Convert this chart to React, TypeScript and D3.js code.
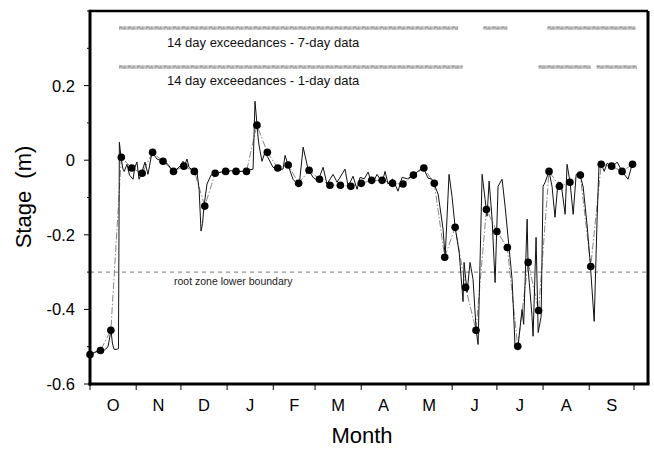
import React from "react";
import * as d3 from "d3";

// ---------- data ----------
const monthLabels = ["O", "N", "D", "J", "F", "M", "A", "M", "J", "J", "A", "S"];
const monthStartDays = [0, 31, 61, 92, 123, 151, 182, 212, 243, 273, 304, 335, 365];
const yTickValues = [-0.6, -0.4, -0.2, 0, 0.2];
const yTickLabels = ["-0.6", "-0.4", "-0.2", "0", "0.2"];
const yMinorTicks = [-0.5, -0.3, -0.1, 0.1, 0.3, 0.4];

// daily stage record: [day of water year, stage (m)]
const dailyStage: [number, number][] = [
  [0, -0.521], [3, -0.515], [6.7, -0.51], [9.4, -0.51], [12.1, -0.5], [14.1, -0.456], [15, -0.49],
  [16.1, -0.507], [18.1, -0.507], [19.1, -0.505], [19.7, 0.048], [20.8, 0.008], [22.1, -0.024],
  [23, -0.03], [24.8, -0.011], [26.5, -0.04], [28.9, -0.051], [30, -0.02], [31.5, -0.005],
  [32.9, -0.051], [35, -0.03], [36.9, -0.005], [38.9, -0.038], [41.6, 0.021], [45, 0.003],
  [49, -0.003], [52.3, -0.011], [55.7, -0.03], [58, -0.025], [60.4, -0.016], [62.4, -0.003],
  [63.8, -0.011], [65.1, 0.003], [66.4, -0.019], [69.8, -0.03], [71.8, -0.032], [73.2, -0.078],
  [74.5, -0.19], [75.5, -0.17], [76.5, -0.123], [78.5, -0.064], [81.2, -0.04], [83.9, -0.035],
  [88, -0.032], [91.3, -0.03], [95, -0.028], [98, -0.03], [102, -0.03], [105.4, -0.027],
  [109.4, -0.024], [110.7, 0.158], [112.1, 0.094], [112.8, 0.06], [113.5, 0.038], [115.4, -0.003],
  [117.4, 0.021], [119, 0.01], [122.8, -0.019], [126.2, -0.024], [129.5, -0.024], [130.9, 0.013],
  [132.9, -0.013], [136.2, -0.051], [140.3, -0.07], [143, 0.035], [146.3, -0.024], [149.7, -0.046],
  [153, -0.056], [156.4, -0.019], [159, -0.064], [163.1, -0.038], [165.8, -0.059], [171.1, -0.024],
  [173.2, -0.07], [176.5, -0.043], [179.2, -0.078], [181.2, -0.046], [184, -0.05], [186.6, -0.032],
  [189.3, -0.064], [192.6, -0.038], [196, -0.059], [198, -0.03], [200, -0.064], [203, -0.05],
  [206.7, -0.083], [209.4, -0.046], [213, -0.05], [216.8, -0.04], [220.1, -0.03], [223.5, -0.019],
  [226.8, -0.048], [229.5, -0.051], [231.5, -0.07], [233.6, -0.091], [236.9, -0.185], [238.3, -0.26],
  [240.9, -0.038], [242.9, -0.097], [245, -0.18], [247.7, -0.247], [250.3, -0.379], [251, -0.274],
  [253, -0.354], [255, -0.274], [257, -0.319], [259.1, -0.456], [260.4, -0.494], [263.1, -0.038],
  [265.1, -0.105], [266.4, -0.15], [267.8, -0.056], [269.8, -0.158], [271.8, -0.328], [273.8, -0.07],
  [276.5, -0.051], [278.5, -0.123], [283.2, -0.319], [285.2, -0.499], [287.2, -0.499], [289.9, -0.4],
  [291, -0.44], [293.3, -0.158], [294, -0.293], [296.6, -0.419], [297.3, -0.472], [299.3, -0.207],
  [300.7, -0.462], [302.7, -0.419], [304, -0.07], [305.4, -0.059], [308, -0.03], [310, -0.07],
  [312, -0.153], [314, -0.059], [316, -0.06], [318.8, -0.145], [320.1, -0.011], [322.1, -0.059],
  [324.2, -0.145], [326.2, -0.038], [328.9, -0.04], [330.9, -0.072], [333.6, -0.177], [335.6, -0.274],
  [338.3, -0.432], [340.3, -0.15], [341.6, -0.005], [343.6, -0.016], [345, -0.03], [347, -0.008],
  [350.3, -0.019], [353.7, -0.005], [357, -0.03], [361, -0.051], [363.8, -0.011],
];

// weekly observations (every 7 days from day 0)
const weeklyStage = [
  -0.521, -0.51, -0.456, 0.008, -0.021, -0.035, 0.021, -0.003, -0.03, -0.016, -0.03, -0.123,
  -0.035, -0.03, -0.03, -0.03, 0.094, 0.021, -0.021, -0.013, -0.062, -0.027, -0.051, -0.067,
  -0.067, -0.07, -0.062, -0.054, -0.054, -0.062, -0.064, -0.04, -0.021, -0.062, -0.26, -0.18,
  -0.341, -0.456, -0.132, -0.191, -0.234, -0.499, -0.274, -0.403, -0.03, -0.07, -0.059, -0.04,
  -0.285, -0.011, -0.016, -0.03, -0.011,
];
const weekStep = 7;

// exceedance periods [start day, end day]
const exceed7Day: [number, number][] = [[19.5, 247], [264, 280], [307, 366]];
const exceed1Day: [number, number][] = [[19.5, 250], [301, 336], [340, 367]];

const rootZoneLevel = -0.3;

// ---------- layout ----------
const W = 654;
const H = 450;
const left = 90;
const right = 648;
const top = 11;
const bottom = 384;

export default function App() {
  const x = d3.scaleLinear().domain([0, 374.4]).range([left, right]);
  const y = d3.scaleLinear().domain([-0.6, 0.4]).range([bottom, top]);

  const line = d3
    .line<[number, number]>()
    .x((d) => x(d[0]))
    .y((d) => y(d[1]));

  const weekly: [number, number][] = weeklyStage.map((v, i) => [i * weekStep, v]);

  const font = "'Liberation Sans', Arial, sans-serif";

  const bar = (s: [number, number], yy: number, key: string) => (
    <g key={key}>
      <line x1={x(s[0])} x2={x(s[1])} y1={yy} y2={yy} stroke="#c4c4c4" strokeWidth={3.4} />
      <line x1={x(s[0])} x2={x(s[1])} y1={yy - 0.8} y2={yy - 0.8} stroke="#888" strokeWidth={1} strokeDasharray="3,2,1,3" />
      <line x1={x(s[0])} x2={x(s[1])} y1={yy + 0.9} y2={yy + 0.9} stroke="#999" strokeWidth={1} strokeDasharray="1,2,4,2" />
    </g>
  );

  return (
    <svg
      width={W}
      height={H}
      style={{ position: "absolute", left: 0, top: 0, background: "#fff" }}
      fontFamily={font}
    >
      <rect x={0} y={0} width={W} height={H} fill="#fff" />

      {/* exceedance bars */}
      {exceed7Day.map((s, i) => bar(s, 28, "e7" + i))}
      {exceed1Day.map((s, i) => bar(s, 67, "e1" + i))}
      <text x={167} y={47} fontSize={13} fill="#111">14 day exceedances - 7-day data</text>
      <text x={167} y={85} fontSize={13} fill="#111">14 day exceedances - 1-day data</text>

      {/* root zone boundary */}
      <line
        x1={left}
        x2={right}
        y1={y(rootZoneLevel)}
        y2={y(rootZoneLevel)}
        stroke="#777"
        strokeWidth={1}
        strokeDasharray="4,4"
      />
      <text x={174} y={y(rootZoneLevel) + 13} fontSize={10.5} fill="#222">
        root zone lower boundary
      </text>

      {/* weekly connecting dash-dot line */}
      <path
        d={line(weekly) || ""}
        fill="none"
        stroke="#888"
        strokeWidth={1}
        strokeDasharray="7,2,1.5,2"
      />
      {/* daily line */}
      <path d={line(dailyStage) || ""} fill="none" stroke="#111" strokeWidth={1} strokeLinejoin="round" />
      {/* weekly dots */}
      {weekly.map((d, i) => (
        <circle key={i} cx={x(d[0])} cy={y(d[1])} r={3.8} fill="#000" />
      ))}

      {/* frame */}
      <line x1={left} x2={right} y1={top} y2={top} stroke="#000" strokeWidth={2.5} />
      <line x1={right} x2={right} y1={top} y2={bottom} stroke="#000" strokeWidth={3} />
      <line x1={left} x2={left} y1={top - 1.2} y2={bottom + 1.5} stroke="#000" strokeWidth={3} />
      <line x1={left - 1.5} x2={right + 1.5} y1={bottom} y2={bottom} stroke="#000" strokeWidth={3} />

      {/* y ticks */}
      {yTickValues.map((v, i) => (
        <g key={"yt" + i}>
          <line x1={left - 6} x2={left} y1={y(v)} y2={y(v)} stroke="#000" strokeWidth={1} />
          <text x={75} y={y(v)} dy="0.36em" fontSize={16.5} textAnchor="end" fill="#000">
            {yTickLabels[i]}
          </text>
        </g>
      ))}
      {yMinorTicks.map((v, i) => (
        <line key={"ym" + i} x1={left - 3} x2={left} y1={y(v)} y2={y(v)} stroke="#000" strokeWidth={1} />
      ))}

      {/* x ticks */}
      {monthStartDays.map((d, i) => (
        <line key={"xt" + i} x1={x(d)} x2={x(d)} y1={bottom} y2={bottom + 6} stroke="#000" strokeWidth={1} />
      ))}
      {monthLabels.map((m, i) => (
        <text
          key={"xl" + i}
          x={x((monthStartDays[i] + monthStartDays[i + 1]) / 2)}
          y={411}
          fontSize={16.5}
          textAnchor="middle"
          fill="#000"
        >
          {m}
        </text>
      ))}

      {/* axis titles */}
      <text x={362} y={443} fontSize={22} textAnchor="middle" fill="#000">
        Month
      </text>
      <text
        transform={`translate(31,197) rotate(-90)`}
        fontSize={22}
        textAnchor="middle"
        fill="#000"
        style={{ whiteSpace: "pre" }}
      >
        {"Stage  (m)"}
      </text>
    </svg>
  );
}
